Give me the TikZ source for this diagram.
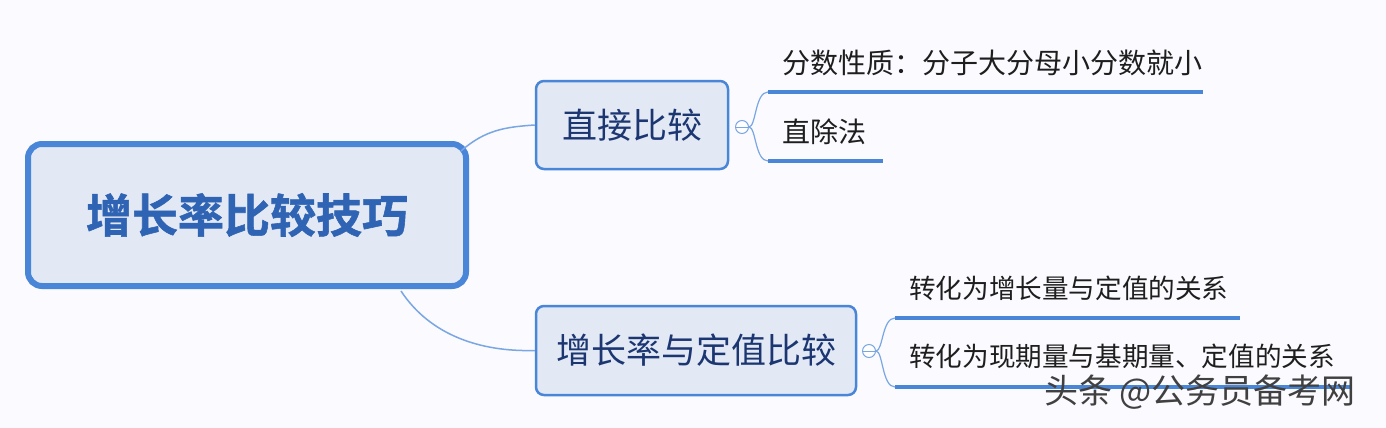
\documentclass[tikz,border=0pt]{standalone}
\usepackage{fontspec}
\newfontfamily\cjk{Noto Sans CJK SC}
\newfontfamily\cjkb[FakeBold=1.2]{Noto Sans CJK SC Bold}
\definecolor{bord}{HTML}{4A86D8}
\definecolor{boxfill}{HTML}{E2E9F4}
\definecolor{roottext}{HTML}{2F63B3}
\definecolor{navy}{HTML}{1C3672}
\definecolor{conn}{HTML}{7AA6E2}
\definecolor{leaftext}{HTML}{1E1E1E}
\begin{document}
\begin{tikzpicture}[x=1pt,y=-1pt,
  rootbox/.style={draw=bord,line width=6pt,fill=boxfill,rounded corners=14pt,minimum width=438pt,minimum height=142pt,inner sep=0pt,text=roottext,font=\cjkb\fontsize{46}{50}\selectfont},
  midbox/.style={draw=bord,line width=2.5pt,fill=boxfill,rounded corners=8pt,inner sep=0pt,text=navy,font=\cjk\fontsize{35}{38}\selectfont},
  leaf/.style={anchor=west,inner sep=0pt,text=leaftext},
  knob/.style={circle,draw=conn,line width=1pt,fill=white,minimum size=13pt,inner sep=0pt},
  conline/.style={draw=conn,line width=1.5pt},
  brack/.style={draw=conn,line width=1.2pt},
  uline/.style={draw=bord,line width=4pt}
]
\useasboundingbox (0,0) rectangle (1386,428);
\fill[white!98!blue] (0,0) rectangle (1386,428);

\node[rootbox] (root) at (247,215) {增长率比较技巧};
\node[midbox,minimum width=192pt,minimum height=88pt] (b1) at (632,125) {直接比较};
\node[midbox,minimum width=320pt,minimum height=89pt] (b2) at (696,350.5) {增长率与定值比较};

\draw[conline] (root.north east) ++(-8,10) coordinate (r1) .. controls (485,130) and (505,127) .. (b1.west);
\draw[conline] (root.south east) ++(-68,2) coordinate (r2) .. controls (430,335) and (480,352) .. (b2.west);

% knobs
\node[knob] (k1) at (742,127) {};
\draw[conn,line width=0.8pt] (k1.west) -- (k1.east);
\node[knob] (k2) at (869,351) {};
\draw[conn,line width=0.8pt] (k2.west) -- (k2.east);

% branch 1
\coordinate (t1s) at (768,92);
\coordinate (t1e) at (1203,92);
\coordinate (t2s) at (768,161);
\coordinate (t2e) at (883,161);
\draw[brack] (k1.east) .. controls (756,127) and (755,92) .. (t1s);
\draw[brack] (k1.east) .. controls (756,127) and (755,161) .. (t2s);
\draw[uline] (t1s) -- (t1e);
\draw[uline] (t2s) -- (t2e);
\node[leaf,font=\cjk\fontsize{28}{32}\selectfont] (l1) at (782,63) {分数性质：分子大分母小分数就小};
\node[leaf,font=\cjk\fontsize{28}{32}\selectfont] (l2) at (782,132) {直除法};

% branch 2
\coordinate (u1s) at (895,318);
\coordinate (u1e) at (1240,318);
\coordinate (u2s) at (895,387);
\coordinate (u2e) at (1352,387);
\draw[brack] (k2.east) .. controls (883,351) and (882,318) .. (u1s);
\draw[brack] (k2.east) .. controls (883,351) and (882,387) .. (u2s);
\draw[uline] (u1s) -- (u1e);
\draw[uline] (u2s) -- (u2e);
\node[leaf,font=\cjk\fontsize{26.6}{30}\selectfont] (l3) at (909,288) {转化为增长量与定值的关系};
\node[leaf,font=\cjk\fontsize{26.6}{30}\selectfont] (l4) at (909,356) {转化为现期量与基期量、定值的关系};

% watermark
\node[anchor=west,inner sep=0pt,text=black!75,font=\cjk\fontsize{34}{37}\selectfont] (wm) at (1044,392) {头条 @公务员备考网};
\end{tikzpicture}
\end{document}
